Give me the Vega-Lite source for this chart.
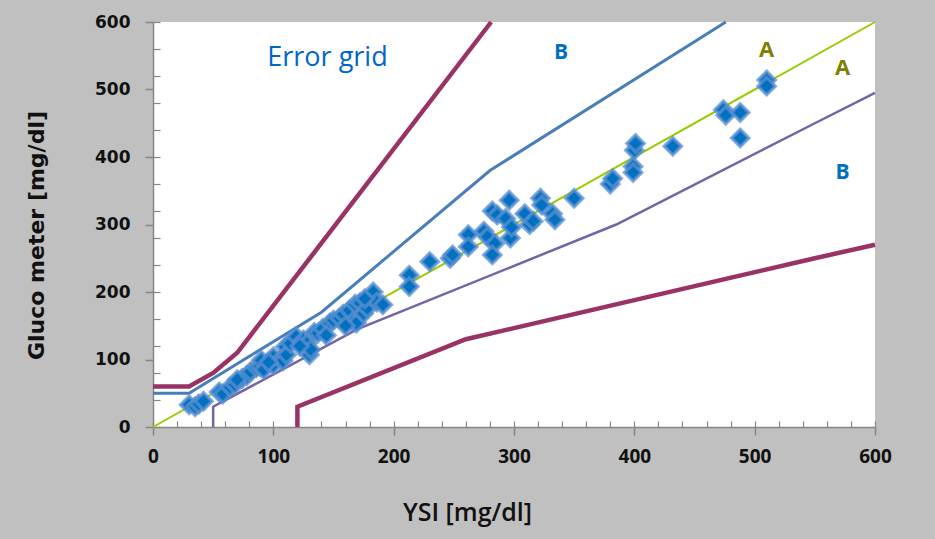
{
  "$schema": "https://vega.github.io/schema/vega-lite/v6.json",
  "width": 722,
  "height": 405,
  "autosize": {"type": "none"},
  "padding": {"left": 153, "top": 22, "right": 60, "bottom": 112},
  "background": "#c0c0c0",
  "config": {"view": {"fill": "white", "stroke": null}},
  "datasets": {
    "grid": [
      {"series": "C upper", "i": 1, "x": 0, "y": 60},
      {"series": "C upper", "i": 2, "x": 30, "y": 60},
      {"series": "C upper", "i": 3, "x": 50, "y": 80},
      {"series": "C upper", "i": 4, "x": 70, "y": 110},
      {"series": "C upper", "i": 5, "x": 281, "y": 600},
      {"series": "C lower", "i": 1, "x": 120, "y": 0},
      {"series": "C lower", "i": 2, "x": 120, "y": 30},
      {"series": "C lower", "i": 3, "x": 260, "y": 130},
      {"series": "C lower", "i": 4, "x": 550, "y": 250},
      {"series": "C lower", "i": 5, "x": 600, "y": 270},
      {"series": "A upper", "i": 1, "x": 0, "y": 50},
      {"series": "A upper", "i": 2, "x": 30, "y": 50},
      {"series": "A upper", "i": 3, "x": 140, "y": 170},
      {"series": "A upper", "i": 4, "x": 280, "y": 380},
      {"series": "A upper", "i": 5, "x": 476, "y": 600},
      {"series": "A lower", "i": 1, "x": 50, "y": 0},
      {"series": "A lower", "i": 2, "x": 50, "y": 30},
      {"series": "A lower", "i": 3, "x": 170, "y": 145},
      {"series": "A lower", "i": 4, "x": 385, "y": 300},
      {"series": "A lower", "i": 5, "x": 550, "y": 450},
      {"series": "A lower", "i": 6, "x": 600, "y": 495},
      {"series": "Identity", "i": 1, "x": 0, "y": 0},
      {"series": "Identity", "i": 2, "x": 600, "y": 600}
    ],
    "points": [
      {"ysi": 30, "meter": 33}, {"ysi": 35, "meter": 30}, {"ysi": 38, "meter": 34}, {"ysi": 42, "meter": 38},
      {"ysi": 55, "meter": 52}, {"ysi": 58, "meter": 49}, {"ysi": 64, "meter": 59}, {"ysi": 68, "meter": 63},
      {"ysi": 74, "meter": 72}, {"ysi": 78, "meter": 76}, {"ysi": 81, "meter": 82}, {"ysi": 86, "meter": 88},
      {"ysi": 89, "meter": 90}, {"ysi": 90, "meter": 99}, {"ysi": 92, "meter": 85}, {"ysi": 100, "meter": 92},
      {"ysi": 100, "meter": 104}, {"ysi": 106, "meter": 100}, {"ysi": 108, "meter": 98}, {"ysi": 110, "meter": 119},
      {"ysi": 111, "meter": 107}, {"ysi": 114, "meter": 124}, {"ysi": 119, "meter": 134}, {"ysi": 125, "meter": 129},
      {"ysi": 128, "meter": 124}, {"ysi": 130, "meter": 107}, {"ysi": 131, "meter": 115}, {"ysi": 134, "meter": 140},
      {"ysi": 137, "meter": 139}, {"ysi": 141, "meter": 146}, {"ysi": 147, "meter": 154}, {"ysi": 150, "meter": 158},
      {"ysi": 155, "meter": 161}, {"ysi": 158, "meter": 167}, {"ysi": 163, "meter": 173}, {"ysi": 166, "meter": 156},
      {"ysi": 168, "meter": 182}, {"ysi": 169, "meter": 154}, {"ysi": 172, "meter": 184}, {"ysi": 175, "meter": 168},
      {"ysi": 178, "meter": 176}, {"ysi": 183, "meter": 191}, {"ysi": 183, "meter": 200}, {"ysi": 186, "meter": 185},
      {"ysi": 191, "meter": 181}, {"ysi": 122, "meter": 120}, {"ysi": 144, "meter": 136}, {"ysi": 160, "meter": 150},
      {"ysi": 96, "meter": 96}, {"ysi": 70, "meter": 70}, {"ysi": 176, "meter": 190},
      {"ysi": 213, "meter": 225}, {"ysi": 213, "meter": 208}, {"ysi": 230, "meter": 245}, {"ysi": 247, "meter": 250},
      {"ysi": 249, "meter": 255}, {"ysi": 262, "meter": 285}, {"ysi": 262, "meter": 267}, {"ysi": 275, "meter": 290},
      {"ysi": 278, "meter": 282}, {"ysi": 282, "meter": 320}, {"ysi": 284, "meter": 272}, {"ysi": 282, "meter": 255},
      {"ysi": 286, "meter": 314}, {"ysi": 293, "meter": 309}, {"ysi": 296, "meter": 336}, {"ysi": 297, "meter": 280},
      {"ysi": 298, "meter": 296}, {"ysi": 309, "meter": 316}, {"ysi": 313, "meter": 300}, {"ysi": 316, "meter": 305},
      {"ysi": 322, "meter": 339}, {"ysi": 323, "meter": 329}, {"ysi": 332, "meter": 316}, {"ysi": 334, "meter": 307},
      {"ysi": 350, "meter": 339}, {"ysi": 380, "meter": 360}, {"ysi": 382, "meter": 368}, {"ysi": 399, "meter": 386},
      {"ysi": 399, "meter": 377}, {"ysi": 400, "meter": 410}, {"ysi": 401, "meter": 420}, {"ysi": 432, "meter": 416},
      {"ysi": 474, "meter": 470}, {"ysi": 476, "meter": 462}, {"ysi": 488, "meter": 466}, {"ysi": 488, "meter": 428},
      {"ysi": 510, "meter": 514}, {"ysi": 510, "meter": 505}
    ],
    "labels": [
      {"label": "Error grid", "kind": "title", "x": 145, "y": 546},
      {"label": "B", "kind": "B", "x": 339, "y": 554},
      {"label": "B", "kind": "B", "x": 573, "y": 376},
      {"label": "A", "kind": "A", "x": 510, "y": 558},
      {"label": "A", "kind": "A", "x": 573, "y": 532}
    ]
  },
  "resolve": {"axis": {"x": "independent", "y": "independent"}},
  "layer": [
    {
      "data": {"name": "grid"},
      "transform": [{"filter": "datum.series === 'C upper' || datum.series === 'C lower'"}],
      "mark": {"type": "line", "color": "#993366", "strokeWidth": 4.5},
      "encoding": {
        "x": {"field": "x", "type": "quantitative", "scale": {"domain": [0, 600], "nice": false},
          "axis": {"orient": "bottom", "values": [0, 100, 200, 300, 400, 500, 600], "tickSize": 8, "tickColor": "#868686", "tickWidth": 1.5,
            "domainColor": "#868686", "domainWidth": 1.5, "grid": false, "labelFlush": false,
            "labelFont": "Open Sans", "labelFontSize": 19, "labelFontWeight": "bold", "labelColor": "#111111", "labelPadding": 12,
            "title": "YSI [mg/dl]", "titleFont": "Open Sans", "titleFontSize": 25, "titleFontWeight": 600, "titleColor": "#111111",
            "titleX": 314, "titleY": 85, "titleBaseline": "middle", "titleAlign": "center"}},
        "y": {"field": "y", "type": "quantitative", "scale": {"domain": [0, 600], "nice": false},
          "axis": {"orient": "left", "values": [0, 100, 200, 300, 400, 500, 600], "tickSize": 8, "tickColor": "#868686", "tickWidth": 1.5,
            "domainColor": "#868686", "domainWidth": 1.5, "grid": false, "labelFlush": false,
            "labelFont": "DejaVu Sans", "labelFontSize": 17, "labelFontWeight": "bold", "labelColor": "#111111", "labelPadding": 15,
            "title": "Gluco meter  [mg/dl]", "titleFont": "DejaVu Sans", "titleFontSize": 22, "titleFontWeight": "bold", "titleColor": "#111111",
            "titleX": -117, "titleY": 213, "titleAngle": 270, "titleBaseline": "middle", "titleAlign": "center"}},
        "detail": {"field": "series", "type": "nominal"},
        "order": {"field": "i", "type": "quantitative"}
      }
    },
    {
      "data": {"name": "grid"},
      "transform": [{"filter": "datum.series === 'A upper'"}],
      "mark": {"type": "line", "color": "#4a7ebb", "strokeWidth": 3},
      "encoding": {
        "x": {"field": "x", "type": "quantitative", "scale": {"domain": [0, 600], "nice": false},
          "axis": {"orient": "bottom", "values": [0, 20, 40, 60, 80, 100, 120, 140, 160, 180, 200, 220, 240, 260, 280, 300, 320, 340, 360, 380, 400, 420, 440, 460, 480, 500, 520, 540, 560, 580, 600],
            "tickSize": -6, "tickColor": "#868686", "tickWidth": 1.2, "labels": false, "domain": false, "grid": false, "title": null}},
        "y": {"field": "y", "type": "quantitative", "scale": {"domain": [0, 600], "nice": false},
          "axis": {"orient": "left", "values": [0, 40, 80, 120, 160, 200, 240, 280, 320, 360, 400, 440, 480, 520, 560, 600],
            "tickSize": -7, "tickColor": "#868686", "tickWidth": 1.2, "labels": false, "domain": false, "grid": false, "title": null}},
        "order": {"field": "i", "type": "quantitative"}
      }
    },
    {
      "data": {"name": "grid"},
      "transform": [{"filter": "datum.series === 'A lower'"}],
      "mark": {"type": "line", "color": "#7563a8", "strokeWidth": 2.5},
      "encoding": {
        "x": {"field": "x", "type": "quantitative", "scale": {"domain": [0, 600], "nice": false}, "axis": null},
        "y": {"field": "y", "type": "quantitative", "scale": {"domain": [0, 600], "nice": false}, "axis": null},
        "order": {"field": "i", "type": "quantitative"}
      }
    },
    {
      "data": {"name": "grid"},
      "transform": [{"filter": "datum.series === 'Identity'"}],
      "mark": {"type": "line", "color": "#99cc00", "strokeWidth": 2},
      "encoding": {
        "x": {"field": "x", "type": "quantitative", "scale": {"domain": [0, 600], "nice": false}, "axis": null},
        "y": {"field": "y", "type": "quantitative", "scale": {"domain": [0, 600], "nice": false}, "axis": null},
        "order": {"field": "i", "type": "quantitative"}
      }
    },
    {
      "data": {"name": "points"},
      "mark": {"type": "point", "shape": "diamond", "filled": true, "size": 290, "fill": "#0070c0", "stroke": "#5a8fd0", "strokeWidth": 3.5, "opacity": 1, "strokeOpacity": 0.75},
      "encoding": {
        "x": {"field": "ysi", "type": "quantitative", "scale": {"domain": [0, 600], "nice": false}, "axis": null},
        "y": {"field": "meter", "type": "quantitative", "scale": {"domain": [0, 600], "nice": false}, "axis": null}
      }
    },
    {
      "data": {"name": "labels"},
      "transform": [{"filter": "datum.kind === 'title'"}],
      "mark": {"type": "text", "font": "Open Sans", "fontSize": 27, "color": "#0066cc", "align": "center", "baseline": "middle"},
      "encoding": {
        "x": {"field": "x", "type": "quantitative", "scale": {"domain": [0, 600], "nice": false}, "axis": null},
        "y": {"field": "y", "type": "quantitative", "scale": {"domain": [0, 600], "nice": false}, "axis": null},
        "text": {"field": "label"}
      }
    },
    {
      "data": {"name": "labels"},
      "transform": [{"filter": "datum.kind === 'B'"}],
      "mark": {"type": "text", "font": "Open Sans", "fontSize": 21, "fontWeight": "bold", "color": "#0070c0", "align": "center", "baseline": "middle"},
      "encoding": {
        "x": {"field": "x", "type": "quantitative", "scale": {"domain": [0, 600], "nice": false}, "axis": null},
        "y": {"field": "y", "type": "quantitative", "scale": {"domain": [0, 600], "nice": false}, "axis": null},
        "text": {"field": "label"}
      }
    },
    {
      "data": {"name": "labels"},
      "transform": [{"filter": "datum.kind === 'A'"}],
      "mark": {"type": "text", "font": "Open Sans", "fontSize": 22, "fontWeight": "bold", "color": "#808000", "align": "center", "baseline": "middle"},
      "encoding": {
        "x": {"field": "x", "type": "quantitative", "scale": {"domain": [0, 600], "nice": false}, "axis": null},
        "y": {"field": "y", "type": "quantitative", "scale": {"domain": [0, 600], "nice": false}, "axis": null},
        "text": {"field": "label"}
      }
    }
  ]
}
